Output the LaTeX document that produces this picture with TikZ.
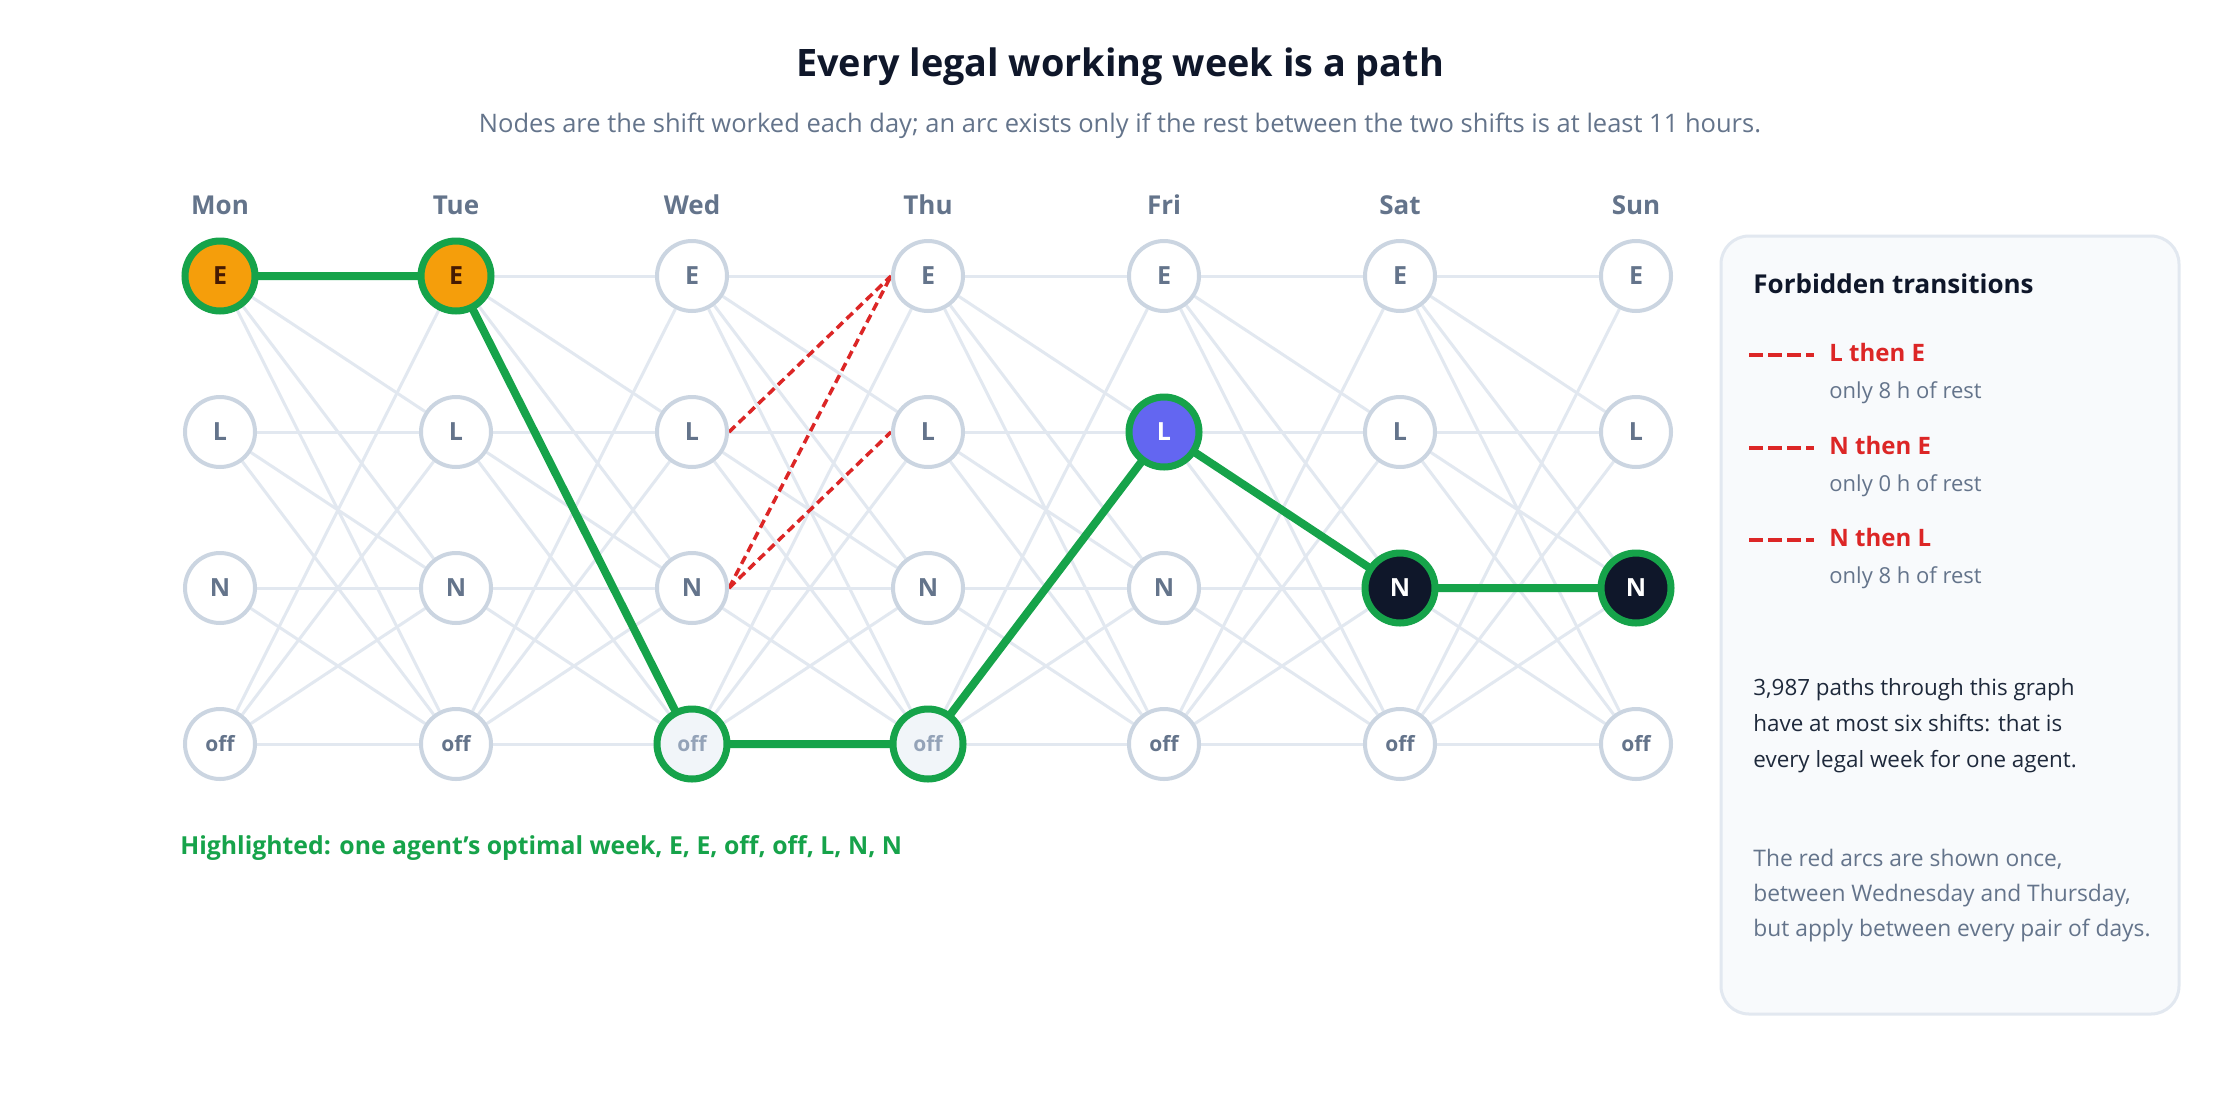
\documentclass[tikz,border=0pt]{standalone}
\usepackage{fontspec}
\setmainfont{Open Sans}
\usetikzlibrary{backgrounds}
\definecolor{ink}{HTML}{0F172A}
\definecolor{slate}{HTML}{64748B}
\definecolor{edgec}{HTML}{E2E8F0}
\definecolor{ring}{HTML}{CBD5E1}
\definecolor{grn}{HTML}{16A34A}
\definecolor{redc}{HTML}{DC2626}
\definecolor{orng}{HTML}{F59E0B}
\definecolor{brwn}{HTML}{451A03}
\definecolor{purp}{HTML}{6366F1}
\definecolor{panelbg}{HTML}{F8FAFC}
\definecolor{panelbd}{HTML}{E2E8F0}
\definecolor{offfill}{HTML}{F1F5F9}
\definecolor{offtext}{HTML}{94A3B8}
\definecolor{bodyc}{HTML}{1E293B}
\newcommand{\fs}[1]{\fontsize{#1}{#1}\selectfont}
\tikzset{
  shiftnode/.style={circle, minimum size=35pt, inner sep=0pt, draw=ring, line width=2pt,
    fill=white, text=slate, font=\bfseries\fs{12.5}},
  offnode/.style={shiftnode, font=\bfseries\fs{10.5}},
  hl/.style={draw=grn, line width=3.5pt},
  daylabel/.style={text=slate, font=\bfseries\fs{13}},
  legaledge/.style={draw=edgec, line width=1.5pt},
  forbidden/.style={draw=redc, line width=1.75pt, dash pattern=on 4.3pt off 2.5pt},
  pathedge/.style={draw=grn, line width=4pt},
  txt/.style={inner sep=0pt, text height=1.6ex, text depth=0.4ex},
}
\begin{document}
\begin{tikzpicture}[x=0.5pt, y=-0.5pt]
\useasboundingbox (0,0) rectangle (2240,1120);
% title
\node[txt, font=\bfseries\fs{18.9}, text=ink] (title) at (1120,70) {Every legal working week is a path};
\node[txt, font=\fs{12.75}, text=slate] (subtitle) at (1120,126) {Nodes are the shift worked each day; an arc exists only if the rest between the two shifts is at least 11 hours.};
% days and nodes
\foreach \d [count=\i] in {Mon,Tue,Wed,Thu,Fri,Sat,Sun}{
  \pgfmathsetmacro\xx{220+(\i-1)*236}
  \node[daylabel, txt] (day\i) at (\xx,208) {\d};
}
\foreach \i in {1,...,7}{
  \pgfmathsetmacro\xx{220+(\i-1)*236}
  \node[shiftnode] (d\i E) at (\xx,276) {E};
  \node[shiftnode] (d\i L) at (\xx,432) {L};
  \node[shiftnode] (d\i N) at (\xx,588) {N};
  \node[offnode] (d\i off) at (\xx,744) {off};
}
% highlighted nodes (redrawn on top)
\node[shiftnode, hl, fill=orng, text=brwn] at (d1E) {E};
\node[shiftnode, hl, fill=orng, text=brwn] at (d2E) {E};
\node[offnode, hl, fill=offfill, text=offtext] at (d3off) {off};
\node[offnode, hl, fill=offfill, text=offtext] at (d4off) {off};
\node[shiftnode, hl, fill=purp, text=white] at (d5L) {L};
\node[shiftnode, hl, fill=ink, text=white] at (d6N) {N};
\node[shiftnode, hl, fill=ink, text=white] at (d7N) {N};
% edges
\begin{scope}[on background layer]
  \fill[white] (0,0) rectangle (2240,1120);
  \foreach \i in {1,...,6}{
    \pgfmathtruncatemacro\j{\i+1}
    \foreach \a/\b in {E/E,E/L,E/N,E/off,L/L,L/N,L/off,N/N,N/off,off/E,off/L,off/N,off/off}{
      \draw[legaledge] (d\i\a) -- (d\j\b);
    }
  }
  \draw[forbidden] (d3L.east) -- (d4E.west);
  \draw[forbidden] (d3N.east) -- (d4E.west);
  \draw[forbidden] (d3N.east) -- (d4L.west);
  \draw[pathedge] (d1E) -- (d2E) -- (d3off) -- (d4off) -- (d5L) -- (d6N) -- (d7N);
\end{scope}
% caption
\node[txt, anchor=west, font=\bfseries\fs{12.4}, text=grn] (caption) at (180,848) {Highlighted: one agent’s optimal week, E, E, off, off, L, N, N};
% panel
\draw[fill=panelbg, draw=panelbd, line width=1.5pt, rounded corners=14pt] (1721,236) rectangle (2179,1014);
\node[txt, anchor=west, font=\bfseries\fs{13}, text=ink] (ptitle) at (1753,287) {Forbidden transitions};
\foreach \lab/\sub/\yy in {L then E/only 8 h of rest/355, N then E/only 0 h of rest/448, N then L/only 8 h of rest/540}{
  \draw[draw=redc, line width=1.75pt, dash pattern=on 7pt off 2.5pt] (1749,\yy) -- (1814,\yy);
  \node[txt, anchor=west, font=\bfseries\fs{12}, text=redc] at (1829,\yy) {\lab};
  \node[txt, anchor=west, font=\fs{11}, text=slate] at (1829,\yy+37) {\sub};
}
\node[txt, anchor=west, font=\fs{11.2}, text=bodyc] (n1) at (1753,689) {3,987 paths through this graph};
\node[txt, anchor=west, font=\fs{11.2}, text=bodyc] (n2) at (1753,725) {have at most six shifts: that is};
\node[txt, anchor=west, font=\fs{11.2}, text=bodyc] (n3) at (1753,761) {every legal week for one agent.};
\node[txt, anchor=west, font=\fs{11.4}, text=slate] (m1) at (1753,860) {The red arcs are shown once,};
\node[txt, anchor=west, font=\fs{11.4}, text=slate] (m2) at (1753,895) {between Wednesday and Thursday,};
\node[txt, anchor=west, font=\fs{11.4}, text=slate] (m3) at (1753,930) {but apply between every pair of days.};
\end{tikzpicture}
\end{document}
